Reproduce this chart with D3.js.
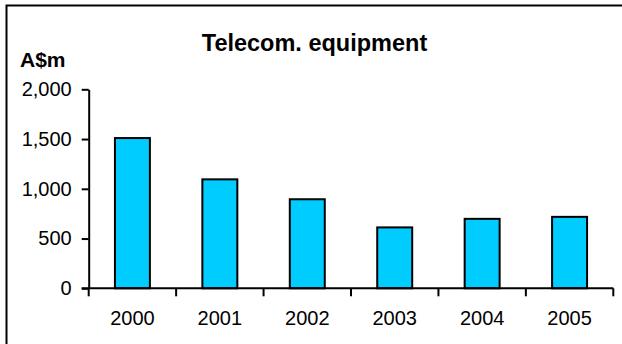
<!DOCTYPE html>
<html>
<head>
<meta charset="utf-8">
<script src="https://cdn.jsdelivr.net/npm/d3@7"></script>
<style>
  html, body { margin: 0; padding: 0; background: #fff; }
  svg { display: block; font-family: Arial, "Liberation Sans", sans-serif; }
</style>
</head>
<body>
<svg id="chart" width="622" height="344"></svg>
<script>
const categories = ["2000", "2001", "2002", "2003", "2004", "2005"];
const values = [1510, 1095, 895, 612, 698, 718];
const yTicks = [0, 500, 1000, 1500, 2000];
const title = "Telecom. equipment";
const unitLabel = "A$m";

const svg = d3.select("#chart");

// outer frame (clipped at right and bottom like the reference)
svg.append("rect")
  .attr("x", 6.5).attr("y", 5.5)
  .attr("width", 700).attr("height", 400)
  .attr("fill", "none").attr("stroke", "#000").attr("stroke-width", 2);

const plotLeft = 88.7, plotRight = 613.3, plotTop = 89.3, plotBottom = 288.3;

const x = d3.scaleBand().domain(categories).range([plotLeft, plotRight])
  .paddingInner(0.6).paddingOuter(0.3);
const y = d3.scaleLinear().domain([0, 2000]).range([plotBottom, plotTop]);

// bars
svg.append("g").selectAll("rect").data(values).join("rect")
  .attr("x", (d, i) => x(categories[i]))
  .attr("y", d => y(d))
  .attr("width", x.bandwidth())
  .attr("height", d => y(0) - y(d))
  .attr("fill", "#00CCFF")
  .attr("stroke", "#000").attr("stroke-width", 2);

// y axis
const yAxis = svg.append("g").attr("transform", `translate(${plotLeft},0)`)
  .call(d3.axisLeft(y).tickValues(yTicks).tickFormat(d3.format(","))
    .tickSize(7).tickSizeOuter(0).tickPadding(10));
yAxis.select(".domain").attr("stroke-width", 2);
yAxis.selectAll(".tick line").attr("stroke-width", 2);
yAxis.selectAll("text").attr("font-size", 20).attr("fill", "#000")
  .attr("font-family", "Arial, 'Liberation Sans', sans-serif");

// x axis
const xAxis = svg.append("g").attr("transform", `translate(0,${plotBottom})`)
  .call(d3.axisBottom(x).tickSize(0).tickSizeOuter(0).tickPadding(23));
xAxis.select(".domain").attr("stroke-width", 2)
  .attr("d", `M${plotLeft - 7},0H${plotRight}`);
xAxis.selectAll("text").attr("font-size", 20).attr("fill", "#000")
  .attr("font-family", "Arial, 'Liberation Sans', sans-serif");

// x tick marks at category boundaries
const bounds = categories.map(c => x(c) - x.step() * x.paddingInner() / 2)
  .concat([plotRight]);
bounds[0] = plotLeft;
svg.append("g").selectAll("line").data(bounds).join("line")
  .attr("x1", d => d).attr("x2", d => d)
  .attr("y1", plotBottom).attr("y2", plotBottom + 8)
  .attr("stroke", "#000").attr("stroke-width", 2);

// title
svg.append("text").attr("x", 314.5).attr("y", 51)
  .attr("text-anchor", "middle").attr("font-weight", "bold")
  .attr("font-size", 23.5).text(title);

// unit label
svg.append("text").attr("x", 20).attr("y", 67)
  .attr("font-weight", "bold").attr("font-size", 21).text(unitLabel);
</script>
</body>
</html>
